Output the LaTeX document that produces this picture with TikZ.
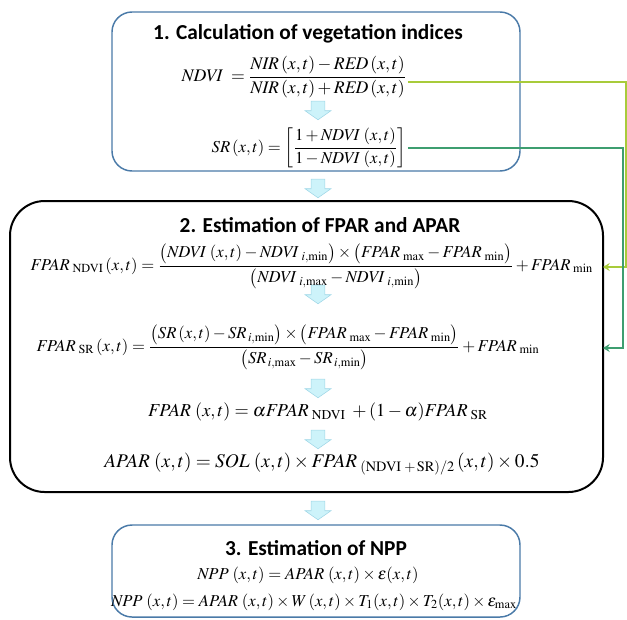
\documentclass[tikz,border=0pt]{standalone}
\usepackage{amsmath}
\usepackage{mathptmx}
\usepackage[no-math]{fontspec}
\setmainfont{Liberation Serif}
\newfontfamily\headfont{Carlito}
\usepackage{tikz}
\usetikzlibrary{shapes.arrows,arrows.meta,positioning}
\definecolor{boxblue}{HTML}{4A7AA8}
\definecolor{ndvigreen}{HTML}{A8CB3A}
\definecolor{srgreen}{HTML}{3E9E70}
\definecolor{arrowfill}{HTML}{CDF3FA}
\definecolor{arrowline}{HTML}{9ED6E6}

\begin{document}
\begin{tikzpicture}[x=0.75pt,y=-0.75pt]
	\tikzstyle{stagebox} = [draw = boxblue, line width = 1.1pt, rounded corners = 15pt, minimum width = 306pt]
	\tikzstyle{headline} = [font = \headfont\bfseries\fontsize{16}{19}\selectfont, inner sep = 1pt]
	\tikzstyle{formula} = [font = \fontsize{12.5}{15}\selectfont, inner sep = 1pt]
	\tikzstyle{flow} = [single arrow, draw = arrowline, fill = arrowfill, rotate = -90, minimum height = 13.5pt, inner sep = 5pt, single arrow head extend = 4.5pt, single arrow tip angle = 110]
	\tikzstyle{feed} = [line width = 1.3pt, -{Stealth[length = 5pt, width = 6pt]}]
\useasboundingbox (0, 0) rectangle (627, 619);

% stage boxes
\node[stagebox, minimum height = 119.25pt] (box1) at (316, 91.5) {};
\node[draw = black, line width = 1.5pt, rounded corners = 26pt, minimum width = 444.75pt, minimum height = 218.25pt] (box2) at (306.5, 346.5) {};
\node[stagebox, minimum height = 69pt] (box3) at (316, 571) {};

% 1
\node[headline] (head1) at (308, 34) {1. Calculation of vegetation indices};
\node[formula, font = \fontsize{13.3}{16}\selectfont] (eqNDVI) at (294, 77) {$\mathit{NDVI}\;=\dfrac{\mathit{NIR}\,(x,t)-\mathit{RED}\,(x,t)}{\mathit{NIR}\,(x,t)+\mathit{RED}\,(x,t)}$};
\node[flow] (ar1) at (318, 108) {};
\node[formula] (eqSR) at (309, 148) {$\mathit{SR}\,(x,t)=\left[\dfrac{1+\mathit{NDVI}\;(x,t)}{1-\mathit{NDVI}\;(x,t)}\right]$};
\node[flow] (ar2) at (318, 186) {};

% 2
\node[headline] (head2) at (320, 225) {2. Estimation of FPAR and APAR};
\node[formula, anchor = west] (eqFN) at (29, 266) {$\mathit{FPAR}_{\;\mathrm{NDVI}}\,(x,t)=\dfrac{\big(\mathit{NDVI}\;(x,t)-\mathit{NDVI}_{\;i,\min}\big)\times\big(\mathit{FPAR}_{\;\max}-\mathit{FPAR}_{\;\min}\big)}{\big(\mathit{NDVI}_{\;i,\max}-\mathit{NDVI}_{\;i,\min}\big)}+\mathit{FPAR}_{\;\min}$};
\node[flow] (ar3) at (318, 292) {};
\node[formula, anchor = west] (eqFS) at (35, 347) {$\mathit{FPAR}_{\;\mathrm{SR}}\,(x,t)=\dfrac{\big(\mathit{SR}\,(x,t)-\mathit{SR}_{\,i,\min}\big)\times\big(\mathit{FPAR}_{\;\max}-\mathit{FPAR}_{\;\min}\big)}{\big(\mathit{SR}_{\,i,\max}-\mathit{SR}_{\,i,\min}\big)}+\mathit{FPAR}_{\;\min}$};
\node[flow] (ar4) at (318, 386) {};
\node[formula, font = \fontsize{13.7}{16}\selectfont] (eqF) at (318, 412) {$\mathit{FPAR}\;(x,t)=\alpha\mathit{FPAR}_{\;\mathrm{NDVI}}\;+(1-\alpha)\mathit{FPAR}_{\;\mathrm{SR}}$};
\node[flow] (ar5) at (318, 437) {};
\node[formula, font = \fontsize{14.5}{17}\selectfont] (eqA) at (322, 464) {$\mathit{APAR}\;(x,t)=\mathit{SOL}\;(x,t)\times\mathit{FPAR}_{\;(\mathrm{NDVI}\;+\,\mathrm{SR})/2}\,(x,t)\times0.5$};
\node[flow] (ar6) at (318, 508) {};

% 3
\node[headline] (head3) at (316, 548) {3. Estimation of NPP};
\node[formula] (eqN1) at (308, 575) {$\mathit{NPP}\;(x,t)=\mathit{APAR}\;(x,t)\times\varepsilon(x,t)$};
\node[formula] (eqN2) at (314, 602) {$\mathit{NPP}\;(x,t)=\mathit{APAR}\;(x,t)\times W\,(x,t)\times T_1(x,t)\times T_2(x,t)\times\varepsilon_{\max}$};

% feeds into stage 2
\coordinate (railA) at (626, 0);
\coordinate (railB) at (623, 0);
\coordinate (inA) at (603, 267);
\coordinate (inB) at (603, 348);
	\path[draw, feed, ndvigreen] ([yshift = -4pt]eqNDVI.east) -- ([yshift = -4pt]eqNDVI.east -| railA) |- (inA);
	\path[draw, feed, srgreen] (eqSR.east) -- (eqSR.east -| railB) |- (inB);
\end{tikzpicture}
\end{document}
